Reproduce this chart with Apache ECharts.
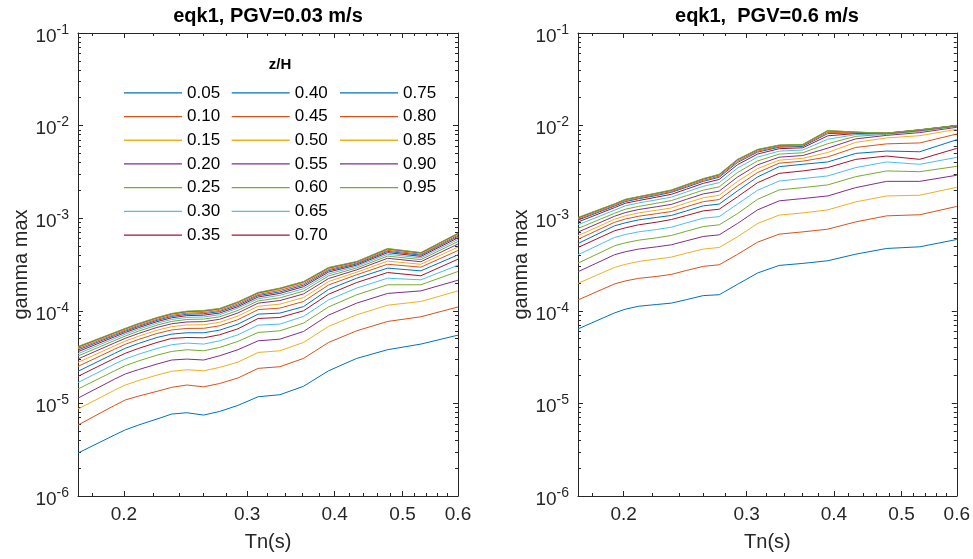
<!DOCTYPE html>
<html><head><meta charset="utf-8">
<script src="https://cdn.jsdelivr.net/npm/echarts@6/dist/echarts.min.js"></script>
<style>html,body{margin:0;padding:0;background:#fff}#c{width:973px;height:559px}</style>
</head><body><div id="c"></div>
<script>
// ---------- data ----------
const Tn = [0.172, 0.194, 0.201, 0.21, 0.223, 0.234, 0.246, 0.26, 0.274, 0.291, 0.311, 0.334, 0.361, 0.392, 0.43, 0.476, 0.531, 0.6];
const zH = ['0.05','0.10','0.15','0.20','0.25','0.30','0.35','0.40','0.45','0.50','0.55','0.60','0.65','0.70','0.75','0.80','0.85','0.90','0.95'];
const xTickLabels = [0.2, 0.3, 0.4, 0.5, 0.6];
const xMinorTicks = [0.18, 0.22, 0.24, 0.26, 0.28, 0.32, 0.34, 0.36, 0.38, 0.42, 0.44, 0.46, 0.48, 0.52, 0.54, 0.56, 0.58];
const yTickExps = [-6, -5, -4, -3, -2, -1];
const titles = ['eqk1, PGV=0.03 m/s', 'eqk1,  PGV=0.6 m/s'];

// PGV = 0.03 m/s
const a_z05 = [2.91e-6, 4.56e-6, 5.18e-6, 5.85e-6, 6.78e-6, 7.67e-6, 7.93e-6, 7.48e-6, 8.19e-6, 9.51e-6, 1.18e-5, 1.24e-5, 1.53e-5, 2.25e-5, 3.06e-5, 3.80e-5, 4.37e-5, 5.46e-5];
const a_z10 = [5.84e-6, 9.52e-6, 1.09e-5, 1.20e-5, 1.35e-5, 1.49e-5, 1.58e-5, 1.51e-5, 1.64e-5, 1.88e-5, 2.39e-5, 2.49e-5, 3.06e-5, 4.55e-5, 6.08e-5, 7.67e-5, 8.62e-5, 1.10e-4];
const a_z15 = [8.69e-6, 1.39e-5, 1.58e-5, 1.77e-5, 2.02e-5, 2.22e-5, 2.31e-5, 2.25e-5, 2.45e-5, 2.79e-5, 3.55e-5, 3.70e-5, 4.55e-5, 6.78e-5, 9.05e-5, 1.15e-4, 1.26e-4, 1.64e-4];
const a_z20 = [1.14e-5, 1.83e-5, 2.08e-5, 2.32e-5, 2.66e-5, 2.94e-5, 3.01e-5, 2.94e-5, 3.27e-5, 3.80e-5, 4.74e-5, 4.94e-5, 5.98e-5, 8.98e-5, 1.21e-4, 1.54e-4, 1.64e-4, 2.14e-4];
const a_z25 = [1.43e-5, 2.25e-5, 2.56e-5, 2.88e-5, 3.32e-5, 3.64e-5, 3.80e-5, 3.70e-5, 4.02e-5, 4.67e-5, 5.84e-5, 6.08e-5, 7.36e-5, 1.10e-4, 1.49e-4, 1.91e-4, 1.91e-4, 2.66e-4];
const a_z30 = [1.68e-5, 2.66e-5, 3.02e-5, 3.40e-5, 3.92e-5, 4.30e-5, 4.48e-5, 4.37e-5, 4.74e-5, 5.51e-5, 7.00e-5, 7.18e-5, 8.69e-5, 1.31e-4, 1.76e-4, 2.25e-4, 2.16e-4, 3.11e-4];
const a_z35 = [1.96e-5, 3.07e-5, 3.48e-5, 3.93e-5, 4.55e-5, 5.03e-5, 5.15e-5, 5.11e-5, 5.51e-5, 6.39e-5, 8.26e-5, 8.47e-5, 1.00e-4, 1.51e-4, 2.02e-4, 2.59e-4, 2.39e-4, 3.61e-4];
const a_z40 = [2.22e-5, 3.47e-5, 3.94e-5, 4.45e-5, 5.15e-5, 5.60e-5, 5.79e-5, 5.79e-5, 6.18e-5, 7.18e-5, 9.21e-5, 9.44e-5, 1.11e-4, 1.70e-4, 2.25e-4, 2.89e-4, 2.70e-4, 4.02e-4];
const a_z45 = [2.51e-5, 3.85e-5, 4.35e-5, 4.91e-5, 5.69e-5, 6.21e-5, 6.45e-5, 6.47e-5, 6.89e-5, 8.02e-5, 1.03e-4, 1.07e-4, 1.26e-4, 1.90e-4, 2.45e-4, 3.18e-4, 2.96e-4, 4.48e-4];
const a_z50 = [2.77e-5, 4.19e-5, 4.71e-5, 5.32e-5, 6.17e-5, 6.74e-5, 7.03e-5, 7.07e-5, 7.51e-5, 8.77e-5, 1.12e-4, 1.18e-4, 1.39e-4, 2.07e-4, 2.61e-4, 3.44e-4, 3.18e-4, 4.88e-4];
const a_z55 = [3.02e-5, 4.50e-5, 5.05e-5, 5.70e-5, 6.61e-5, 7.24e-5, 7.58e-5, 7.64e-5, 8.09e-5, 9.48e-5, 1.21e-4, 1.29e-4, 1.52e-4, 2.23e-4, 2.77e-4, 3.69e-4, 3.39e-4, 5.26e-4];
const a_z60 = [3.25e-5, 4.78e-5, 5.34e-5, 6.04e-5, 7.00e-5, 7.68e-5, 8.06e-5, 8.14e-5, 8.61e-5, 1.01e-4, 1.28e-4, 1.38e-4, 1.63e-4, 2.38e-4, 2.90e-4, 3.90e-4, 3.57e-4, 5.60e-4];
const a_z65 = [3.44e-5, 5.02e-5, 5.60e-5, 6.33e-5, 7.34e-5, 8.06e-5, 8.48e-5, 8.58e-5, 9.07e-5, 1.07e-4, 1.35e-4, 1.47e-4, 1.73e-4, 2.50e-4, 3.02e-4, 4.08e-4, 3.73e-4, 5.89e-4];
const a_z70 = [3.62e-5, 5.24e-5, 5.83e-5, 6.59e-5, 7.64e-5, 8.40e-5, 8.86e-5, 8.97e-5, 9.46e-5, 1.11e-4, 1.41e-4, 1.54e-4, 1.82e-4, 2.62e-4, 3.12e-4, 4.25e-4, 3.87e-4, 6.15e-4];
const a_z75 = [3.77e-5, 5.42e-5, 6.02e-5, 6.80e-5, 7.89e-5, 8.69e-5, 9.17e-5, 9.30e-5, 9.80e-5, 1.15e-4, 1.46e-4, 1.60e-4, 1.89e-4, 2.71e-4, 3.21e-4, 4.38e-4, 3.99e-4, 6.37e-4];
const a_z80 = [3.90e-5, 5.57e-5, 6.18e-5, 6.99e-5, 8.10e-5, 8.94e-5, 9.45e-5, 9.59e-5, 1.01e-4, 1.19e-4, 1.50e-4, 1.66e-4, 1.96e-4, 2.79e-4, 3.28e-4, 4.50e-4, 4.09e-4, 6.56e-4];
const a_z85 = [4.00e-5, 5.69e-5, 6.31e-5, 7.13e-5, 8.27e-5, 9.12e-5, 9.65e-5, 9.80e-5, 1.03e-4, 1.22e-4, 1.54e-4, 1.70e-4, 2.01e-4, 2.86e-4, 3.34e-4, 4.59e-4, 4.17e-4, 6.71e-4];
const a_z90 = [4.07e-5, 5.78e-5, 6.41e-5, 7.24e-5, 8.39e-5, 9.26e-5, 9.81e-5, 9.97e-5, 1.05e-4, 1.24e-4, 1.56e-4, 1.74e-4, 2.05e-4, 2.90e-4, 3.38e-4, 4.66e-4, 4.22e-4, 6.82e-4];
const a_z95 = [4.12e-5, 5.84e-5, 6.47e-5, 7.31e-5, 8.47e-5, 9.36e-5, 9.92e-5, 1.01e-4, 1.06e-4, 1.25e-4, 1.58e-4, 1.76e-4, 2.07e-4, 2.94e-4, 3.41e-4, 4.71e-4, 4.26e-4, 6.89e-4];

// PGV = 0.6 m/s
const b_z05 = [6.37e-5, 9.48e-5, 1.04e-4, 1.12e-4, 1.17e-4, 1.21e-4, 1.32e-4, 1.46e-4, 1.49e-4, 1.93e-4, 2.56e-4, 3.09e-4, 3.25e-4, 3.47e-4, 4.09e-4, 4.71e-4, 4.91e-4, 5.89e-4];
const b_z10 = [1.31e-4, 1.95e-4, 2.10e-4, 2.24e-4, 2.35e-4, 2.47e-4, 2.73e-4, 3.02e-4, 3.14e-4, 4.06e-4, 5.51e-4, 6.73e-4, 7.12e-4, 7.61e-4, 9.13e-4, 1.06e-3, 1.09e-3, 1.34e-3];
const b_z15 = [1.98e-4, 2.94e-4, 3.17e-4, 3.41e-4, 3.62e-4, 3.80e-4, 4.20e-4, 4.64e-4, 4.83e-4, 6.29e-4, 8.76e-4, 1.08e-3, 1.14e-3, 1.23e-3, 1.50e-3, 1.74e-3, 1.77e-3, 2.16e-3];
const b_z20 = [2.64e-4, 4.03e-4, 4.34e-4, 4.64e-4, 4.91e-4, 5.16e-4, 5.70e-4, 6.35e-4, 6.61e-4, 8.76e-4, 1.23e-3, 1.54e-3, 1.63e-3, 1.74e-3, 2.14e-3, 2.50e-3, 2.50e-3, 2.91e-3];
const b_z25 = [3.27e-4, 5.03e-4, 5.42e-4, 5.79e-4, 6.14e-4, 6.51e-4, 7.24e-4, 8.13e-4, 8.48e-4, 1.12e-3, 1.60e-3, 2.02e-3, 2.14e-3, 2.29e-3, 2.81e-3, 3.24e-3, 3.18e-3, 3.63e-3];
const b_z30 = [4.03e-4, 6.19e-4, 6.67e-4, 7.12e-4, 7.55e-4, 8.00e-4, 8.91e-4, 1.00e-3, 1.04e-3, 1.42e-3, 2.00e-3, 2.52e-3, 2.68e-3, 2.86e-3, 3.52e-3, 4.05e-3, 3.82e-3, 4.54e-3];
const b_z35 = [4.83e-4, 7.31e-4, 7.87e-4, 8.48e-4, 9.06e-4, 9.67e-4, 1.07e-3, 1.20e-3, 1.25e-3, 1.70e-3, 2.42e-3, 3.05e-3, 3.24e-3, 3.52e-3, 4.32e-3, 4.69e-3, 4.32e-3, 5.68e-3];
const b_z40 = [5.33e-4, 8.27e-4, 8.91e-4, 9.59e-4, 1.02e-3, 1.07e-3, 1.20e-3, 1.36e-3, 1.42e-3, 1.97e-3, 2.79e-3, 3.60e-3, 3.82e-3, 4.05e-3, 5.01e-3, 5.31e-3, 5.22e-3, 7.04e-3];
const b_z45 = [5.92e-4, 9.03e-4, 9.79e-4, 1.05e-3, 1.12e-3, 1.18e-3, 1.33e-3, 1.51e-3, 1.59e-3, 2.23e-3, 3.11e-3, 3.93e-3, 4.13e-3, 4.59e-3, 5.81e-3, 6.35e-3, 6.50e-3, 8.11e-3];
const b_z50 = [6.47e-4, 9.74e-4, 1.06e-3, 1.14e-3, 1.22e-3, 1.29e-3, 1.46e-3, 1.66e-3, 1.77e-3, 2.49e-3, 3.43e-3, 4.23e-3, 4.43e-3, 5.12e-3, 6.60e-3, 7.36e-3, 7.78e-3, 9.12e-3];
const b_z55 = [7.08e-4, 1.05e-3, 1.15e-3, 1.24e-3, 1.33e-3, 1.41e-3, 1.60e-3, 1.83e-3, 1.96e-3, 2.78e-3, 3.77e-3, 4.56e-3, 4.75e-3, 5.71e-3, 7.19e-3, 7.84e-3, 8.40e-3, 9.59e-3];
const b_z60 = [7.75e-4, 1.13e-3, 1.25e-3, 1.34e-3, 1.45e-3, 1.55e-3, 1.75e-3, 2.01e-3, 2.18e-3, 3.11e-3, 4.15e-3, 4.92e-3, 5.09e-3, 6.38e-3, 7.66e-3, 8.05e-3, 8.68e-3, 9.80e-3];
const b_z65 = [8.49e-4, 1.22e-3, 1.36e-3, 1.46e-3, 1.58e-3, 1.69e-3, 1.92e-3, 2.21e-3, 2.42e-3, 3.47e-3, 4.57e-3, 5.30e-3, 5.45e-3, 7.12e-3, 7.99e-3, 8.15e-3, 8.83e-3, 9.90e-3];
const b_z70 = [9.11e-4, 1.30e-3, 1.45e-3, 1.55e-3, 1.69e-3, 1.81e-3, 2.06e-3, 2.38e-3, 2.62e-3, 3.78e-3, 4.93e-3, 5.63e-3, 5.76e-3, 7.76e-3, 8.20e-3, 8.21e-3, 8.89e-3, 9.95e-3];
const b_z75 = [9.53e-4, 1.35e-3, 1.51e-3, 1.62e-3, 1.76e-3, 1.90e-3, 2.16e-3, 2.50e-3, 2.77e-3, 3.99e-3, 5.17e-3, 5.84e-3, 5.96e-3, 8.20e-3, 8.33e-3, 8.25e-3, 8.94e-3, 9.99e-3];
const b_z80 = [9.78e-4, 1.38e-3, 1.55e-3, 1.65e-3, 1.81e-3, 1.94e-3, 2.22e-3, 2.57e-3, 2.85e-3, 4.12e-3, 5.31e-3, 5.97e-3, 6.08e-3, 8.46e-3, 8.40e-3, 8.27e-3, 8.97e-3, 1.000e-2];
const b_z85 = [9.97e-4, 1.40e-3, 1.57e-3, 1.68e-3, 1.84e-3, 1.98e-3, 2.26e-3, 2.62e-3, 2.91e-3, 4.22e-3, 5.42e-3, 6.07e-3, 6.18e-3, 8.66e-3, 8.46e-3, 8.28e-3, 9.00e-3, 1.002e-2];
const b_z90 = [1.01e-3, 1.42e-3, 1.59e-3, 1.70e-3, 1.86e-3, 2.00e-3, 2.29e-3, 2.65e-3, 2.95e-3, 4.28e-3, 5.49e-3, 6.13e-3, 6.23e-3, 8.79e-3, 8.49e-3, 8.29e-3, 9.01e-3, 1.003e-2];
const b_z95 = [1.02e-3, 1.43e-3, 1.60e-3, 1.71e-3, 1.87e-3, 2.02e-3, 2.31e-3, 2.68e-3, 2.98e-3, 4.32e-3, 5.54e-3, 6.17e-3, 6.27e-3, 8.87e-3, 8.51e-3, 8.30e-3, 9.02e-3, 1.004e-2];

const panelA = [a_z05,a_z10,a_z15,a_z20,a_z25,a_z30,a_z35,a_z40,a_z45,a_z50,a_z55,a_z60,a_z65,a_z70,a_z75,a_z80,a_z85,a_z90,a_z95];
const panelB = [b_z05,b_z10,b_z15,b_z20,b_z25,b_z30,b_z35,b_z40,b_z45,b_z50,b_z55,b_z60,b_z65,b_z70,b_z75,b_z80,b_z85,b_z90,b_z95];

// ---------- chart ----------
const COLORS = ['#0072BD','#D95319','#EDB120','#7E2F8E','#77AC30','#4DBEEE','#A2142F'];
const FONT = '"Liberation Sans", Arial, Helvetica, sans-serif';
const AX = '#262626';
const lg = v => Math.log10(v);
const xMin = lg(Tn[0]), xMax = lg(0.6);
const xMajor = xTickLabels.map(lg);
const xMinor = xMinorTicks.map(lg);
const yMinor = [];
for (let e = -6; e <= -2; e++) for (let k = 2; k <= 9; k++) yMinor.push(lg(k * Math.pow(10, e)));

const gridDefs = [
  {left: 78, top: 33, width: 380, height: 463},
  {left: 578, top: 33, width: 379, height: 463}
];

const xAxis = [], yAxis = [];
gridDefs.forEach((g, gi) => {
  const xb = {type: 'value', gridIndex: gi, min: xMin, max: xMax, splitLine: {show: false},
    axisLine: {show: true, onZero: false, lineStyle: {color: AX, width: 1}}};
  xAxis.push(Object.assign({}, xb, {position: 'bottom',
    axisTick: {show: true, inside: true, length: 5, customValues: xMajor, lineStyle: {color: AX}},
    axisLabel: {show: true, customValues: xMajor, formatter: v => Math.pow(10, v).toFixed(1), margin: 9, fontSize: 19, color: AX, fontFamily: FONT},
    name: 'Tn(s)', nameLocation: 'middle', nameGap: 36, nameTextStyle: {fontSize: 20, color: AX, fontFamily: FONT}}));
  xAxis.push(Object.assign({}, xb, {position: 'top',
    axisTick: {show: true, inside: true, length: 5, customValues: xMajor, lineStyle: {color: AX}}, axisLabel: {show: false}}));
  xAxis.push(Object.assign({}, xb, {position: 'bottom', axisLine: {show: false},
    axisTick: {show: true, inside: true, length: 3, customValues: xMinor, lineStyle: {color: AX}}, axisLabel: {show: false}}));
  xAxis.push(Object.assign({}, xb, {position: 'top', axisLine: {show: false},
    axisTick: {show: true, inside: true, length: 3, customValues: xMinor, lineStyle: {color: AX}}, axisLabel: {show: false}}));

  const yb = {type: 'value', gridIndex: gi, min: -6, max: -1, splitLine: {show: false},
    axisLine: {show: true, onZero: false, lineStyle: {color: AX, width: 1}}};
  yAxis.push(Object.assign({}, yb, {position: 'left',
    axisTick: {show: true, inside: true, length: 5, customValues: yTickExps, lineStyle: {color: AX}},
    axisLabel: {show: true, customValues: yTickExps, margin: 9, color: AX, fontFamily: FONT,
      formatter: v => '{b|10}{s|' + Math.round(v) + '}',
      rich: {b: {fontSize: 19, fontFamily: FONT, color: AX, verticalAlign: 'bottom', lineHeight: 20},
             s: {fontSize: 14, fontFamily: FONT, color: AX, verticalAlign: 'top', padding: [3, 0, 9, 0]}}},
    name: 'gamma max', nameLocation: 'middle', nameGap: 47, nameTextStyle: {fontSize: 20, color: AX, fontFamily: FONT}}));
  yAxis.push(Object.assign({}, yb, {position: 'right',
    axisTick: {show: true, inside: true, length: 5, customValues: yTickExps, lineStyle: {color: AX}}, axisLabel: {show: false}}));
  yAxis.push(Object.assign({}, yb, {position: 'left', axisLine: {show: false},
    axisTick: {show: true, inside: true, length: 3, customValues: yMinor, lineStyle: {color: AX}}, axisLabel: {show: false}}));
  yAxis.push(Object.assign({}, yb, {position: 'right', axisLine: {show: false},
    axisTick: {show: true, inside: true, length: 3, customValues: yMinor, lineStyle: {color: AX}}, axisLabel: {show: false}}));
});

const series = [];
[panelA, panelB].forEach((panel, gi) => {
  panel.forEach((arr, k) => {
    const c = COLORS[k % 7];
    series.push({
      type: 'line', name: zH[k], xAxisIndex: gi * 4, yAxisIndex: gi * 4,
      data: Tn.map((t, i) => [lg(t), lg(arr[i])]),
      symbol: 'none', showSymbol: false, animation: false, silent: true,
      lineStyle: {width: 1, color: c}, itemStyle: {color: c}
    });
  });
});

const legendLeft = [124, 231.7, 340];
const legend = [0, 1, 2].map(c => ({
  show: true, orient: 'vertical', left: legendLeft[c], top: 81, padding: 0, itemGap: 0,
  itemWidth: 58, itemHeight: 1.3, icon: 'rect', selectedMode: false,
  data: zH.slice(c * 7, c * 7 + 7),
  itemStyle: {borderWidth: 0},
  textStyle: {fontSize: 17, lineHeight: 23.7, color: '#000', fontFamily: FONT}
}));

const chart = echarts.init(document.getElementById('c'), null, {renderer: 'canvas'});
chart.setOption({
  backgroundColor: '#fff',
  animation: false,
  textStyle: {fontFamily: FONT},
  grid: gridDefs.map(g => Object.assign({containLabel: false}, g)),
  xAxis, yAxis, series, legend,
  graphic: [
    {type: 'text', x: 268, y: 16, style: {text: titles[0], font: 'bold 20px ' + FONT, fill: '#000', textAlign: 'center', textVerticalAlign: 'middle'}},
    {type: 'text', x: 767, y: 16, style: {text: titles[1], font: 'bold 20px ' + FONT, fill: '#000', textAlign: 'center', textVerticalAlign: 'middle'}},
    {type: 'text', x: 280, y: 65, style: {text: 'z/H', font: 'bold 15px ' + FONT, fill: '#000', textAlign: 'center', textVerticalAlign: 'middle'}}
  ]
});
</script>
</body></html>
